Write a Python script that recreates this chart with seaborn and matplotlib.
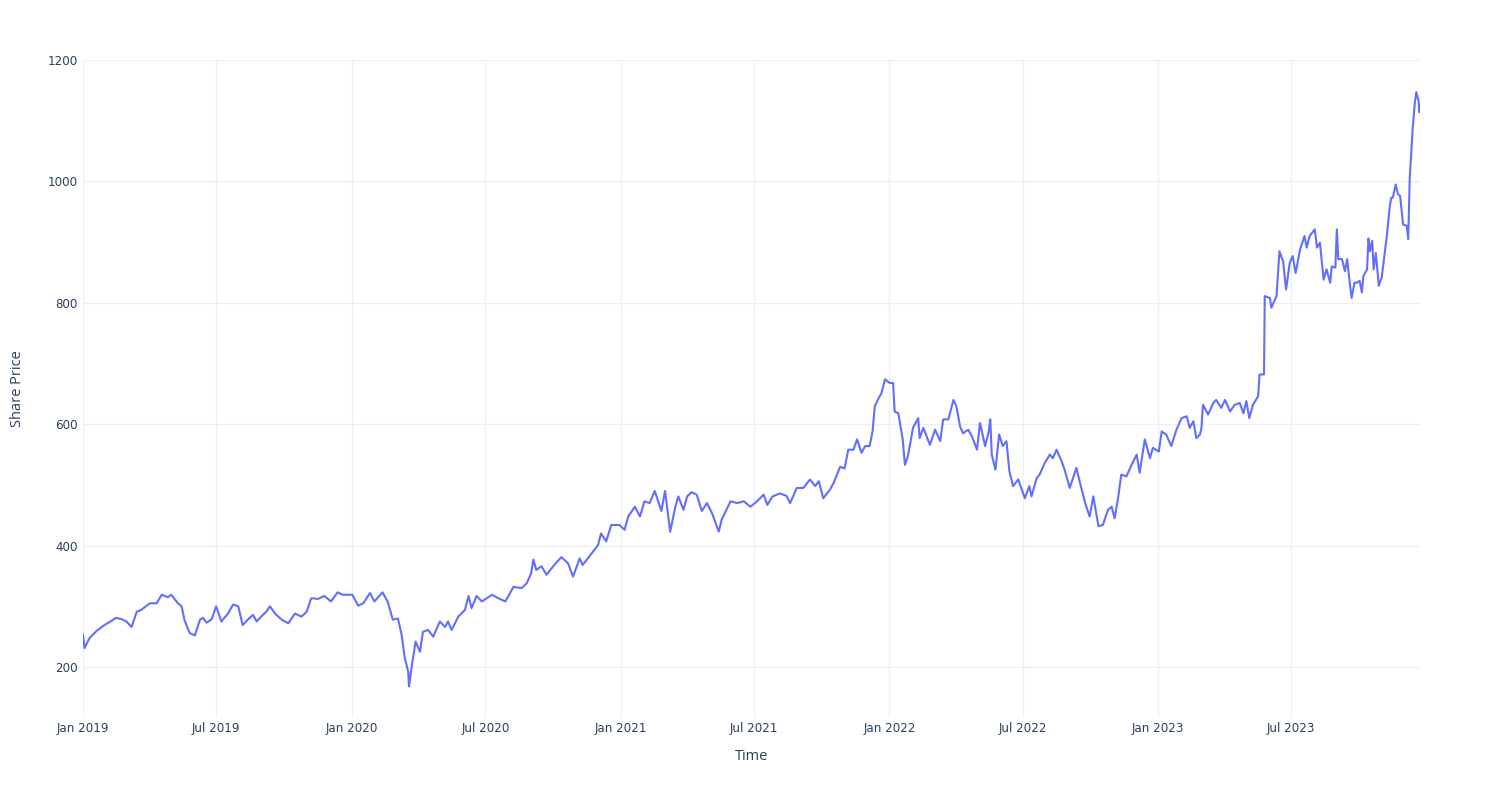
import matplotlib
matplotlib.use("Agg")
import matplotlib.pyplot as plt
import pandas as pd
import seaborn as sns

# ---- data ----
dates_2019 = ["2019-01-01", "2019-01-03", "2019-01-10", "2019-01-19", "2019-01-30", "2019-02-06",
              "2019-02-15", "2019-02-22", "2019-03-01", "2019-03-08", "2019-03-15", "2019-03-21",
              "2019-04-02", "2019-04-11", "2019-04-18", "2019-04-26", "2019-05-01", "2019-05-10",
              "2019-05-15", "2019-05-19", "2019-05-26", "2019-06-02", "2019-06-09", "2019-06-13",
              "2019-06-18", "2019-06-25", "2019-07-01", "2019-07-08", "2019-07-17", "2019-07-24",
              "2019-07-31", "2019-08-06", "2019-08-13", "2019-08-20", "2019-08-25", "2019-08-31",
              "2019-09-07", "2019-09-12", "2019-09-19", "2019-09-28", "2019-10-07", "2019-10-16",
              "2019-10-25", "2019-11-01", "2019-11-07", "2019-11-12", "2019-11-16", "2019-11-25",
              "2019-12-04", "2019-12-13", "2019-12-20"]
prices_2019 = [254, 231, 248, 259, 269, 274, 281, 279, 275, 266, 291, 294,
               305, 305, 319, 315, 319, 305, 300, 277, 256, 252, 278, 281,
               273, 279, 300, 275, 288, 303, 300, 269, 278, 286, 275, 283,
               291, 300, 288, 278, 272, 288, 283, 291, 313, 313, 312, 317,
               308, 323, 319]

dates_2020 = ["2020-01-02", "2020-01-10", "2020-01-17", "2020-01-26", "2020-02-01", "2020-02-12",
              "2020-02-19", "2020-02-26", "2020-03-04", "2020-03-09", "2020-03-13", "2020-03-18",
              "2020-03-19", "2020-03-22", "2020-03-28", "2020-04-03", "2020-04-07", "2020-04-14",
              "2020-04-21", "2020-04-30", "2020-05-07", "2020-05-11", "2020-05-16", "2020-05-25",
              "2020-06-03", "2020-06-08", "2020-06-12", "2020-06-19", "2020-06-26", "2020-07-10",
              "2020-07-19", "2020-07-28", "2020-08-08", "2020-08-19", "2020-08-26", "2020-09-01",
              "2020-09-04", "2020-09-08", "2020-09-15", "2020-09-22", "2020-10-01", "2020-10-12",
              "2020-10-21", "2020-10-28", "2020-11-06", "2020-11-10", "2020-11-19", "2020-12-01",
              "2020-12-05", "2020-12-12", "2020-12-19", "2020-12-30"]
prices_2020 = [319, 301, 305, 322, 308, 323, 308, 278, 280, 253, 217, 192,
               168, 195, 242, 225, 258, 261, 250, 275, 266, 275, 261, 283,
               294, 317, 297, 317, 308, 319, 313, 308, 332, 330, 338, 354,
               377, 360, 366, 352, 366, 381, 371, 349, 379, 368, 382, 401,
               420, 407, 434, 434]

dates_2021 = ["2021-01-06", "2021-01-11", "2021-01-20", "2021-01-27", "2021-02-02", "2021-02-09",
              "2021-02-16", "2021-02-25", "2021-03-02", "2021-03-09", "2021-03-16", "2021-03-20",
              "2021-03-27", "2021-04-01", "2021-04-07", "2021-04-14", "2021-04-21", "2021-04-28",
              "2021-05-05", "2021-05-14", "2021-05-18", "2021-05-30", "2021-06-08", "2021-06-17",
              "2021-06-26", "2021-07-05", "2021-07-14", "2021-07-19", "2021-07-26", "2021-08-05",
              "2021-08-14", "2021-08-19", "2021-08-28", "2021-09-06", "2021-09-15", "2021-09-22",
              "2021-09-27", "2021-10-03", "2021-10-12", "2021-10-17", "2021-10-26", "2021-11-01",
              "2021-11-06", "2021-11-13", "2021-11-18", "2021-11-24", "2021-11-29", "2021-12-05",
              "2021-12-09", "2021-12-12", "2021-12-16", "2021-12-21", "2021-12-26"]
prices_2021 = [426, 448, 464, 448, 473, 470, 490, 457, 490, 423, 464, 481,
               459, 481, 488, 484, 457, 470, 453, 423, 443, 473, 470, 473,
               464, 473, 484, 467, 481, 486, 482, 470, 495, 495, 509, 498,
               506, 478, 492, 503, 530, 527, 558, 558, 575, 553, 564, 564,
               588, 629, 640, 651, 674]

dates_2022 = ["2022-01-01", "2022-01-06", "2022-01-08", "2022-01-13", "2022-01-19", "2022-01-22",
              "2022-01-26", "2022-02-02", "2022-02-09", "2022-02-11", "2022-02-16", "2022-02-25",
              "2022-03-04", "2022-03-11", "2022-03-15", "2022-03-22", "2022-03-29", "2022-04-02",
              "2022-04-07", "2022-04-11", "2022-04-18", "2022-04-23", "2022-04-30", "2022-05-04",
              "2022-05-11", "2022-05-16", "2022-05-18", "2022-05-20", "2022-05-25", "2022-05-30",
              "2022-06-04", "2022-06-09", "2022-06-13", "2022-06-18", "2022-06-25", "2022-07-04",
              "2022-07-10", "2022-07-13", "2022-07-20", "2022-07-24", "2022-07-31", "2022-08-07",
              "2022-08-11", "2022-08-16", "2022-08-23", "2022-08-27", "2022-09-03", "2022-09-12",
              "2022-09-17", "2022-09-24", "2022-09-30", "2022-10-05", "2022-10-12", "2022-10-18",
              "2022-10-25", "2022-10-30", "2022-11-03", "2022-11-08", "2022-11-12", "2022-11-19",
              "2022-11-26", "2022-12-03", "2022-12-07", "2022-12-14", "2022-12-21", "2022-12-25"]
prices_2022 = [668, 668, 621, 618, 575, 533, 547, 594, 610, 577, 594, 566,
               591, 572, 608, 608, 640, 629, 596, 585, 591, 580, 558, 602,
               564, 588, 608, 550, 525, 583, 564, 572, 522, 498, 509, 478,
               498, 481, 511, 517, 536, 550, 544, 558, 539, 525, 495, 528,
               503, 470, 448, 481, 432, 434, 459, 464, 445, 481, 517, 514,
               533, 550, 520, 575, 544, 561]

dates_2023 = ["2023-01-02", "2023-01-06", "2023-01-12", "2023-01-19", "2023-01-26", "2023-02-02",
              "2023-02-09", "2023-02-13", "2023-02-18", "2023-02-22", "2023-02-27", "2023-03-01",
              "2023-03-03", "2023-03-10", "2023-03-17", "2023-03-21", "2023-03-28", "2023-04-02",
              "2023-04-09", "2023-04-15", "2023-04-22", "2023-04-27", "2023-05-01", "2023-05-05",
              "2023-05-10", "2023-05-17", "2023-05-19", "2023-05-25", "2023-05-26", "2023-06-02",
              "2023-06-04", "2023-06-11", "2023-06-15", "2023-06-20", "2023-06-24", "2023-06-29",
              "2023-07-03", "2023-07-07", "2023-07-13", "2023-07-19", "2023-07-22", "2023-07-26",
              "2023-08-02", "2023-08-05", "2023-08-09", "2023-08-14", "2023-08-18", "2023-08-23",
              "2023-08-25", "2023-08-30", "2023-09-01", "2023-09-03", "2023-09-08", "2023-09-12",
              "2023-09-15", "2023-09-17", "2023-09-21", "2023-09-25", "2023-09-28", "2023-10-02",
              "2023-10-05", "2023-10-07", "2023-10-12", "2023-10-14", "2023-10-16", "2023-10-19",
              "2023-10-21", "2023-10-24", "2023-10-28", "2023-11-01", "2023-11-05", "2023-11-08",
              "2023-11-12", "2023-11-14", "2023-11-16", "2023-11-20", "2023-11-23", "2023-11-26",
              "2023-11-30", "2023-12-05", "2023-12-07", "2023-12-09", "2023-12-13", "2023-12-16",
              "2023-12-18", "2023-12-21", "2023-12-22", "2023-12-23"]
prices_2023 = [555, 588, 583, 564, 591, 610, 613, 594, 605, 577, 583, 594,
               632, 616, 635, 640, 627, 640, 621, 632, 635, 618, 638, 610,
               632, 646, 682, 682, 811, 808, 792, 811, 885, 868, 822, 866,
               877, 849, 888, 910, 891, 910, 921, 891, 899, 838, 855, 833,
               860, 858, 921, 872, 872, 852, 872, 849, 808, 833, 833, 836,
               817, 844, 855, 906, 885, 902, 855, 882, 828, 842, 882, 911,
               960, 973, 973, 995, 979, 976, 929, 927, 905, 1004, 1086, 1130,
               1147, 1133, 1114, 1125]

y_ticks = [200, 400, 600, 800, 1000, 1200]
x_tick_dates = ["2019-01-01", "2019-07-01", "2020-01-01", "2020-07-01", "2021-01-01",
                "2021-07-01", "2022-01-01", "2022-07-01", "2023-01-01", "2023-07-01"]

# ---- build frame ----
all_dates = dates_2019 + dates_2020 + dates_2021 + dates_2022 + dates_2023
all_prices = prices_2019 + prices_2020 + prices_2021 + prices_2022 + prices_2023
df = pd.DataFrame({"Time": pd.to_datetime(all_dates), "Share Price": all_prices})

# ---- style ----
sns.set_theme(style="white")
plt.rcParams["font.family"] = ["DejaVu Sans"]
text_color = "#2a3f5f"
grid_color = "#EBF0F8"

fig = plt.figure(figsize=(15, 8), dpi=100)
ax = fig.add_axes([83 / 1500, 1 - 718 / 800, (1420 - 83) / 1500, (718 - 60) / 800])

sns.lineplot(data=df, x="Time", y="Share Price", ax=ax, color="#636EFA",
             linewidth=1.5, zorder=3)

ax.set_xlim(df["Time"].min(), df["Time"].max())
ax.set_ylim(116, 1200)

xt = pd.to_datetime(x_tick_dates)
ax.set_xticks(xt)
ax.set_xticklabels([d.strftime("%b %Y") for d in xt])
ax.set_yticks(y_ticks)
ax.set_yticklabels([str(v) for v in y_ticks])

ax.grid(True, color=grid_color, linewidth=0.9, zorder=0)
ax.set_axisbelow(True)
for s in ax.spines.values():
    s.set_visible(False)

ax.tick_params(axis="both", length=0, labelsize=8.6, colors=text_color)
ax.tick_params(axis="x", pad=3)
ax.tick_params(axis="y", pad=4)

ax.set_xlabel("Time", fontsize=10.5, color=text_color, labelpad=10,
              family=["Open Sans", "DejaVu Sans"])
ax.set_ylabel("Share Price", fontsize=10.5, color=text_color, labelpad=16,
              family=["Open Sans", "DejaVu Sans"])

fig.savefig("out.png", dpi=100, facecolor="white")
